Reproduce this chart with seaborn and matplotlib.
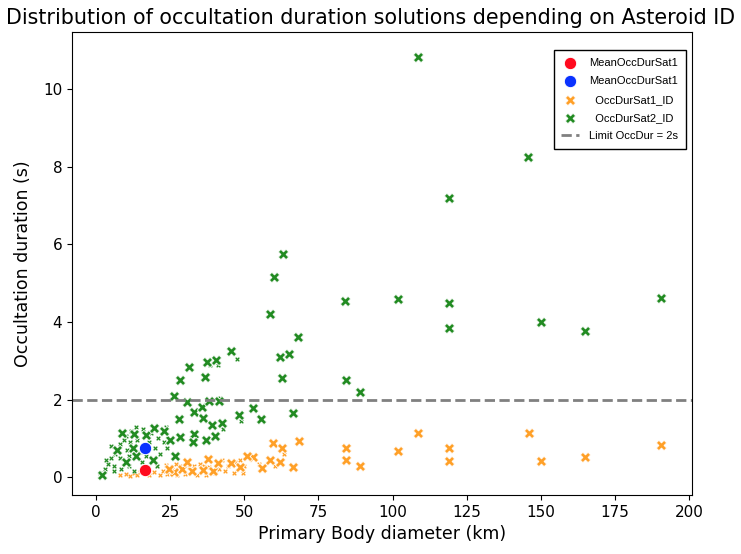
import seaborn as sns
import matplotlib.pyplot as plt
import numpy as np
import pandas as pd

# diameters (km) and occultation durations (s)
sat1_x = [53, 56, 58.7, 59.7, 62.8, 62, 66.4, 68.5, 84.3, 84.3, 89, 102, 108.6, 119, 119,
          146, 150, 165, 190.5, 45.5, 48.6, 51, 32.4, 36, 39.5, 29, 26.3, 30.8, 37.8, 41, 24.6]
sat1_y = [0.51, 0.23, 0.45, 0.87, 0.76, 0.4, 0.25, 0.93, 0.74, 0.45, 0.28, 0.67, 1.13, 0.75, 0.42,
          1.13, 0.41, 0.51, 0.83, 0.36, 0.25, 0.54, 0.16, 0.19, 0.15, 0.2, 0.13, 0.4, 0.47, 0.37, 0.2]

sat2_x = [108.6, 145.7, 119, 63, 60, 58.7, 84, 102, 119, 119, 150, 165, 190.5, 68, 62, 65,
          62.8, 84.3, 89, 66.4, 45.5, 37.4, 40.5, 31.4, 28.3, 36.8, 26.3, 30.6, 33, 35.7,
          38.2, 41.6, 53, 48.2, 55.6, 28, 36, 39.2, 42.5, 28.3, 33, 32.6, 37.2, 40, 25, 26.6,
          8.8, 12.8, 16.9, 19.7, 22.8, 7, 12.5, 10, 13.6, 19.2, 2.2]
sat2_y = [10.82, 8.25, 7.19, 5.75, 5.15, 4.2, 4.55, 4.58, 4.48, 3.85, 4.0, 3.77, 4.63, 3.62, 3.1, 3.17,
          2.56, 2.51, 2.2, 1.66, 3.26, 2.98, 3.02, 2.83, 2.5, 2.57, 2.09, 1.93, 1.69, 1.8,
          1.96, 1.97, 1.79, 1.6, 1.5, 1.5, 1.52, 1.34, 1.39, 1.03, 1.12, 0.9, 0.95, 1.06, 0.97, 0.55,
          1.13, 1.1, 1.08, 1.26, 1.18, 0.71, 0.76, 0.39, 0.55, 0.45, 0.06]

# the many tiny markers in the dense corner
sat1_small_x = [8, 10, 11.5, 13, 14, 15, 18, 19.5, 20.5, 21.5, 22.5, 23.5, 24, 25.5, 27, 27.5, 28.5,
                30, 31.5, 33, 34, 35, 36.5, 37, 38, 40, 41.5, 42.5, 43.5, 44.5, 46.5, 47, 48.5, 50,
                49.5, 55, 60.5, 63.5]
sat1_small_y = [0.05, 0.08, 0.03, 0.1, 0.05, 0.12, 0.05, 0.12, 0.28, 0.05, 0.15, 0.32, 0.07, 0.25, 0.35,
                0.05, 0.3, 0.08, 0.25, 0.3, 0.05, 0.35, 0.3, 0.05, 0.25, 0.1, 0.22, 0.45, 0.15, 0.3,
                0.1, 0.4, 0.45, 0.3, 0.1, 0.35, 0.3, 0.6]
sat2_small_x = [1.5, 3, 4, 5, 3.5, 6, 6.5, 8, 8, 9.5, 10.5, 11, 11.5, 12, 13.5, 14, 15, 15.5, 17, 18,
                18.5, 20, 21, 21.5, 23, 23.5, 24, 6, 8.5, 5, 10, 16, 20.5, 38.5, 41, 47.5, 42, 43,
                49, 13, 11]
sat2_small_y = [0.1, 0.2, 0.35, 0.5, 0.45, 0.3, 0.6, 0.5, 0.85, 0.95, 0.7, 0.55, 0.9, 1.2, 1.3, 0.95,
                0.65, 0.4, 0.55, 0.9, 1.15, 0.75, 1.0, 0.6, 0.9, 1.3, 0.75, 0.15, 0.2, 0.8, 1.05,
                1.25, 0.3, 2.88, 2.9, 3.05, 2.05, 1.25, 1.45, 0.15, 0.3]

mean_x = [16.5, 16.5]
mean_y = [0.18, 0.75]
mean_labels = ["MeanOccDurSat1", "MeanOccDurSat1"]
sat_labels = ["  OccDurSat1_ID", "  OccDurSat2_ID"]
limit_dur = 2
limit_label = "Limit OccDur = 2s"

fig, ax = plt.subplots(figsize=(7.41, 5.54), dpi=100)
fig.subplots_adjust(left=0.097, right=0.934, top=0.942, bottom=0.1065)

orange = "#FFA028"
green = "#228B22"

sns.scatterplot(x=sat1_small_x, y=sat1_small_y, color=orange, marker="X", s=14, ax=ax)
sns.scatterplot(x=sat2_small_x, y=sat2_small_y, color=green, marker="X", s=14, ax=ax)
sns.scatterplot(x=sat1_x, y=sat1_y, color=orange, marker="X", s=55, ax=ax, label=sat_labels[0])
sns.scatterplot(x=sat2_x, y=sat2_y, color=green, marker="X", s=55, ax=ax, label=sat_labels[1])
sns.scatterplot(x=[mean_x[0]], y=[mean_y[0]], color="#FF0A1E", s=80, ax=ax,
                label=mean_labels[0], zorder=5)
sns.scatterplot(x=[mean_x[1]], y=[mean_y[1]], color="#0A32FF", s=80, ax=ax,
                label=mean_labels[1], zorder=5)
ax.axhline(limit_dur, color="gray", linestyle="--", linewidth=2, label=limit_label)

handles, labels = ax.get_legend_handles_labels()
order = [2, 3, 0, 1, 4]
ax.legend([handles[i] for i in order], [labels[i] for i in order],
          loc="upper right", bbox_to_anchor=(0.99, 0.961), borderaxespad=0,
          prop={"family": "Liberation Sans", "size": 8}, fancybox=False,
          edgecolor="black", framealpha=1, borderpad=0.7, labelspacing=0.75,
          handlelength=1.6, handletextpad=0.9)

ax.set_xlim(-8.1, 201)
ax.set_ylim(-0.46, 11.47)
ax.set_xticks([0, 25, 50, 75, 100, 125, 150, 175, 200])
ax.set_xlabel("Primary Body diameter (km)", fontsize=12.5)
ax.set_ylabel("Occultation duration (s)", fontsize=12.5, labelpad=8)
ax.tick_params(labelsize=11)
ax.set_title("Distribution of occultation duration solutions depending on Asteroid ID",
             fontsize=14.9, x=0.4815)

plt.savefig("out.png")
